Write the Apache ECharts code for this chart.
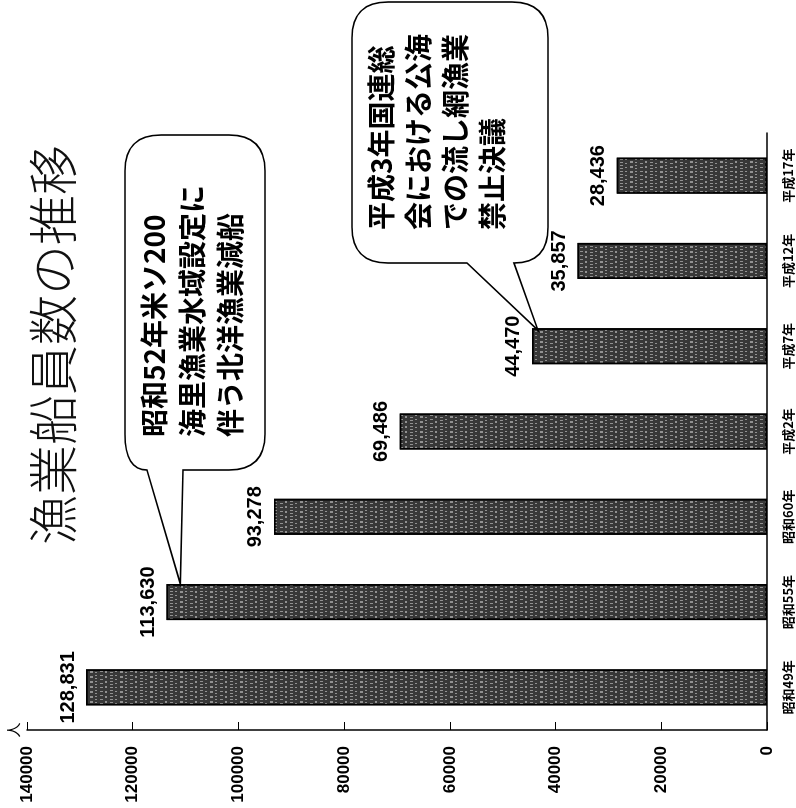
<!DOCTYPE html>
<html>
<head>
<meta charset="utf-8">
<script src="https://cdn.jsdelivr.net/npm/echarts@6/dist/echarts.min.js"></script>
<style>
html, body { margin: 0; padding: 0; background: #fff; overflow: hidden; }
/* the original chart is upright; the page shows it turned a quarter left */
#chart {
    position: absolute; left: 0; top: 0;
    width: 808px; height: 796px;
    transform-origin: 0 0;
    transform: translate(0, 808px) rotate(-90deg);
}
</style>
</head>
<body>
<div id="chart"></div>
<script>
var categories = ['昭和49年', '昭和55年', '昭和60年', '平成2年', '平成7年', '平成12年', '平成17年'];
var values = [128831, 113630, 93278, 69486, 44470, 35857, 28436];
var axisMax = 140000;
var axisStep = 20000;
var note1 = '昭和52年米ソ200\n海里漁業水域設定に\n伴う北洋漁業減船';
var note2 = '平成3年国連総\n会における公海\nでの流し網漁業\n禁止決議';

var numFont = '"Liberation Sans Narrow", "Liberation Sans", Arial, sans-serif';
var jpFont = '"Noto Sans CJK JP", sans-serif';

var chart = echarts.init(document.getElementById('chart'));

var option = {
    backgroundColor: '#fff',
    animation: false,
    title: {
        text: '漁業船員数の推移',
        left: 258,
        top: 23,
        textStyle: { fontFamily: jpFont, fontSize: 50, fontWeight: 300, color: '#111' }
    },
    grid: { left: 78, right: 133, top: 27, bottom: 29 },
    xAxis: {
        type: 'category',
        data: categories,
        axisLine: { lineStyle: { color: '#000', width: 1.5 } },
        axisTick: { inside: true, length: 5, lineStyle: { color: '#000' } },
        axisLabel: { margin: 15, fontFamily: jpFont, fontWeight: 'bold', fontSize: 13, color: '#000' }
    },
    yAxis: {
        type: 'value',
        min: 0,
        max: axisMax,
        interval: axisStep,
        name: '人',
        nameGap: 6,
        nameTextStyle: { fontFamily: jpFont, fontSize: 15, color: '#000' },
        axisLine: { show: true, lineStyle: { color: '#000', width: 1.5 } },
        axisTick: { show: true, inside: true, length: 8, lineStyle: { color: '#000' } },
        splitLine: { show: false },
        axisLabel: {
            margin: 16,
            formatter: function (v) { return String(v); },
            fontFamily: numFont, fontWeight: 'bold', fontSize: 17, color: '#000'
        }
    },
    series: [{
        type: 'bar',
        data: values,
        barWidth: 36,
        itemStyle: {
            color: '#383838',
            borderColor: '#000',
            borderWidth: 1.5,
            decal: {
                color: 'rgba(255,255,255,0.45)',
                symbol: 'rect',
                symbolSize: 1,
                dashArrayX: [[1, 2], [1, 3], [2, 3]],
                dashArrayY: [3, 2, 2, 3],
                rotation: 0
            }
        },
        label: {
            show: true,
            position: 'top',
            distance: 8,
            formatter: function (p) { return echarts.format.addCommas(p.value); },
            fontFamily: numFont,
            fontWeight: 'bold',
            fontSize: 20,
            color: '#000'
        }
    }]
};

chart.setOption(option);

// speech bubble: rounded box with a tail leaving its left side (a..b) toward tip
function bubblePath(L, T, R, B, r, a, b, tip, roundA) {
    var d = 'M' + (L + r) + ' ' + T +
        ' L' + (R - r) + ' ' + T +
        ' Q' + R + ' ' + T + ' ' + R + ' ' + (T + r) +
        ' L' + R + ' ' + (B - r) +
        ' Q' + R + ' ' + B + ' ' + (R - r) + ' ' + B +
        ' L' + (L + r) + ' ' + B +
        ' Q' + L + ' ' + B + ' ' + L + ' ' + Math.max(b, B - r) +
        ' L' + L + ' ' + b +
        ' L' + tip[0] + ' ' + tip[1] +
        ' L' + L + ' ' + a;
    if (roundA) {
        d += ' Q' + L + ' ' + T + ' ' + (L + r) + ' ' + T;
    } else {
        d += ' L' + L + ' ' + (T + r) + ' Q' + L + ' ' + T + ' ' + (L + r) + ' ' + T;
    }
    return d + ' Z';
}

var p2 = chart.convertToPixel({ seriesIndex: 0 }, [1, values[1]]);
var p5 = chart.convertToPixel({ seriesIndex: 0 }, [4, values[4]]);
var tip1 = [p2[0] + 18, p2[1] + 14];
var tip2 = [p5[0] + 16, p5[1] + 6];

echarts.graphic.registerShape('bubbleA', echarts.graphic.extendPath(bubblePath(338, 125, 673, 265, 36, 147, 183, tip1, true), {}));
echarts.graphic.registerShape('bubbleB', echarts.graphic.extendPath(bubblePath(545, 352, 806, 548, 36, 467, 514, tip2, false), {}));

chart.setOption({
    graphic: [
        {
            type: 'bubbleA',
            style: { fill: '#fff', stroke: '#000', lineWidth: 1.6 },
            z: 100
        },
        {
            type: 'text',
            x: 371, y: 135,
            style: { text: note1, fontFamily: jpFont, fontWeight: 'bold', fontSize: 28, lineHeight: 38, fill: '#000', textVerticalAlign: 'top' },
            z: 101
        },
        {
            type: 'bubbleB',
            style: { fill: '#fff', stroke: '#000', lineWidth: 1.6 },
            z: 100
        },
        {
            type: 'text',
            x: 578, y: 363,
            style: { text: note2, fontFamily: jpFont, fontWeight: 'bold', fontSize: 28, lineHeight: 37, fill: '#000', textVerticalAlign: 'top' },
            z: 101
        }
    ]
});
</script>
</body>
</html>
